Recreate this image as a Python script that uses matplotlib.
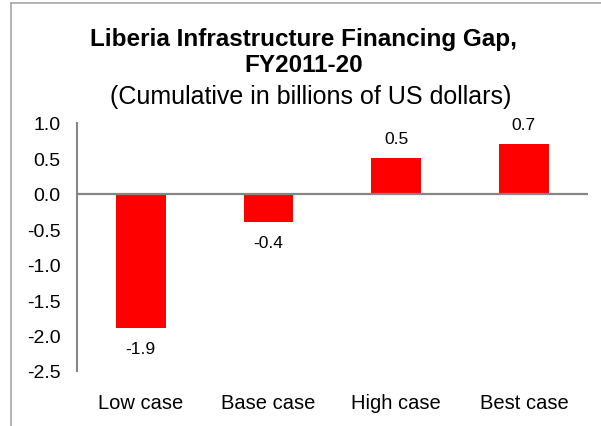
import matplotlib
matplotlib.use("Agg")
import matplotlib.pyplot as plt
from matplotlib.lines import Line2D

plt.rcParams['font.family'] = ['Liberation Sans', 'DejaVu Sans']

categories = ["Low case", "Base case", "High case", "Best case"]
gap_values = [-1.9, -0.4, 0.5, 0.7]
y_ticks = [1.0, 0.5, 0.0, -0.5, -1.0, -1.5, -2.0, -2.5]

fig = plt.figure(figsize=(6.01, 4.27), dpi=100)
ax = fig.add_axes([0.128, 0.129, 0.85, 0.581])

x = range(len(categories))
ax.bar(x, gap_values, width=0.39, color="#ff0000", zorder=2)

for xi, v in zip(x, gap_values):
    off = 9 if v >= 0 else -9
    ax.annotate(f"{v:.1f}", (xi, v), xytext=(0, off), textcoords="offset points",
                ha="center", va="bottom" if v >= 0 else "top", fontsize=12.5, color="#000000")

ax.set_xlim(-0.5, len(categories) - 0.5)
ax.set_ylim(-2.5, 1.0)
ax.set_yticks(y_ticks)
ax.set_yticklabels([f"{t:.1f}" for t in y_ticks])
ax.set_xticks(list(x))
ax.set_xticklabels(categories)
ax.tick_params(axis="y", length=0, pad=12, labelsize=14)
ax.tick_params(axis="x", length=0, pad=16, labelsize=14.5)

for s in ["top", "right", "bottom"]:
    ax.spines[s].set_visible(False)
ax.spines["left"].set_color("#868686")
ax.spines["left"].set_linewidth(1.5)
ax.axhline(0, color="#868686", lw=1.6, zorder=3)

fig.text(0.505, 0.908, "Liberia Infrastructure Financing Gap,", ha="center", va="center",
         fontsize=17.5, fontweight="bold")
fig.text(0.505, 0.846, "FY2011-20", ha="center", va="center", fontsize=17.5, fontweight="bold")
fig.text(0.517, 0.772, "(Cumulative in billions of US dollars)", ha="center", va="center",
         fontsize=18)

# outer chart border (top and left edges)
fig.add_artist(Line2D([11 / 601, 1.0], [1 - 4 / 427, 1 - 4 / 427], transform=fig.transFigure,
                      color="#a6a6a6", lw=1.2))
fig.add_artist(Line2D([11 / 601, 11 / 601], [0, 1 - 4 / 427], transform=fig.transFigure,
                      color="#a6a6a6", lw=1.2))

fig.savefig("out.png", dpi=100)
